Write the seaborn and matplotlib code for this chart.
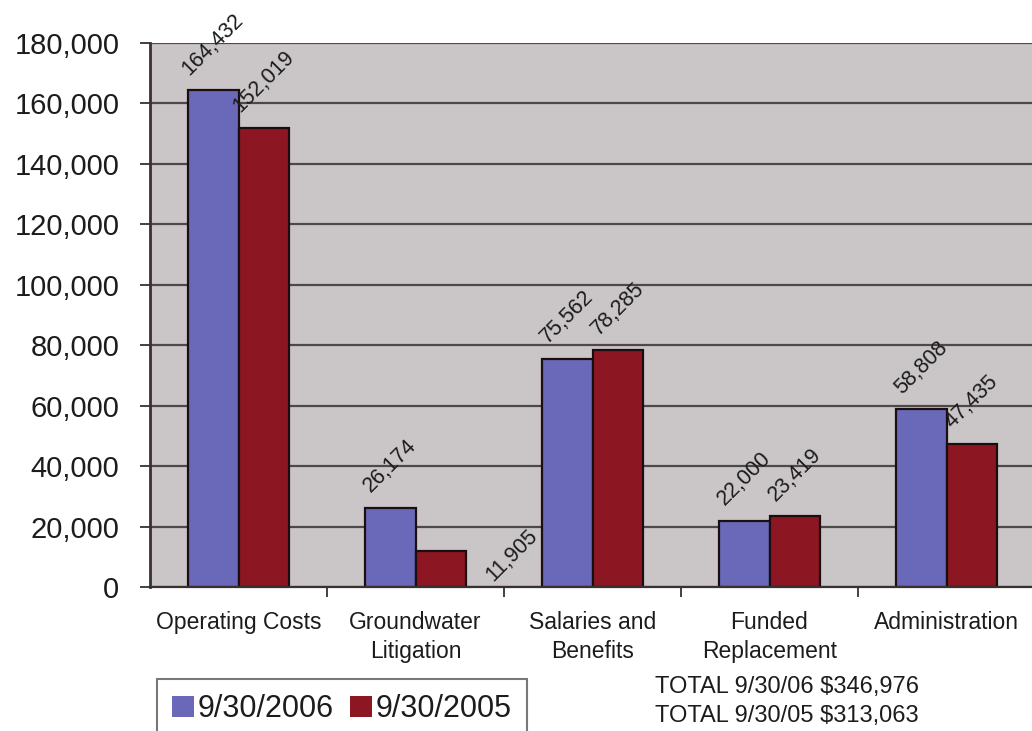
import matplotlib
matplotlib.use("Agg")
import matplotlib.pyplot as plt
from matplotlib.patches import Patch
from matplotlib.ticker import FuncFormatter, FixedLocator
import seaborn as sns
import pandas as pd

# Expense categories and the two fiscal-year series
categories = ["Operating Costs", "Groundwater\nLitigation", "Salaries and\nBenefits",
              "Funded\nReplacement", "Administration"]
series_names = ["9/30/2006", "9/30/2005"]
values_2006 = [164432, 26174, 75562, 22000, 58808]
values_2005 = [152019, 11905, 78285, 23419, 47435]
total_labels = ["TOTAL 9/30/06", "TOTAL 9/30/05"]
y_ticks = [0, 20000, 40000, 60000, 80000, 100000, 120000, 140000, 160000, 180000]

BLUE = "#6a68b8"
RED = "#8c1621"
PANEL = "#cac6c8"
GRID = "#4e4848"
TEXT = "#1c1c1c"

df = pd.DataFrame({
    "category": categories * 2,
    "series": [series_names[0]] * len(categories) + [series_names[1]] * len(categories),
    "value": values_2006 + values_2005,
})

sns.set_theme(style="white")
plt.rcParams["font.family"] = ["Liberation Sans", "DejaVu Sans"]

fig = plt.figure(figsize=(10.32, 7.31), dpi=100)
fig.patch.set_facecolor("white")
ax = fig.add_axes([150 / 1032, 1 - 587 / 731, 885 / 1032, (587 - 43) / 731])
ax.set_facecolor(PANEL)

sns.barplot(data=df, x="category", y="value", hue="series", order=categories,
            hue_order=series_names, palette=[BLUE, RED], width=0.57, gap=0,
            edgecolor="#1a0e10", linewidth=1.6, saturation=1, legend=False, ax=ax)

ax.set_xlim(-0.5, len(categories) - 0.5)
ax.set_ylim(0, 180000)
ax.set_xlabel("")
ax.set_ylabel("")

# Gridlines behind bars
ax.set_axisbelow(True)
ax.yaxis.set_major_locator(FixedLocator(y_ticks))
ax.grid(axis="y", color=GRID, linewidth=1.6)
ax.grid(axis="x", visible=False)
ax.yaxis.set_major_formatter(FuncFormatter(lambda v, p: f"{int(v):,}"))
ax.tick_params(axis="y", which="major", length=7, width=1.3, color="#333333",
               direction="out", pad=15, labelsize=21, labelcolor=TEXT, left=True)

# Category labels centered, tick marks between categories
ax.tick_params(axis="x", which="major", length=0, pad=17, labelsize=16.5, labelcolor=TEXT)
ax.set_xticks(range(len(categories)))
ax.set_xticklabels(categories, linespacing=1.35)
ax.xaxis.set_minor_locator(FixedLocator([i + 0.5 for i in range(len(categories) - 1)]))
ax.tick_params(axis="x", which="minor", length=7, width=1.3, color="#333333",
               direction="out", bottom=True)

for side in ("top", "right"):
    ax.spines[side].set_visible(False)
ax.spines["left"].set_color("#3a3030")
ax.spines["left"].set_linewidth(2)
ax.spines["bottom"].set_color("#3a3030")
ax.spines["bottom"].set_linewidth(1.6)

# Value labels, rotated above each bar
beside_base = {(categories[1], series_names[1])}
for s_name, container in zip(series_names, ax.containers):
    for cat, bar in zip(categories, container.patches):
        val = bar.get_height()
        cx = bar.get_x() + bar.get_width() / 2
        if (cat, s_name) in beside_base:
            ax.annotate(f"{int(round(val)):,}", xy=(cx + 0.4, 0), xytext=(0, 1),
                        textcoords="offset points", rotation=45, ha="center",
                        va="bottom", fontsize=15.5, color=TEXT)
        else:
            ax.annotate(f"{int(round(val)):,}", xy=(cx, val), xytext=(0, 8),
                        textcoords="offset points", rotation=45, ha="center",
                        va="bottom", fontsize=15.5, color=TEXT, annotation_clip=False)

# Legend with square swatches
handles = [Patch(facecolor=BLUE, edgecolor="none"), Patch(facecolor=RED, edgecolor="none")]
leg = fig.legend(handles, series_names, loc="upper left",
                 bbox_to_anchor=(157 / 1032, 1 - 679 / 731), ncol=2, fontsize=22,
                 frameon=True, fancybox=False, handlelength=0.7, handleheight=0.7,
                 handletextpad=0.12, columnspacing=0.55, borderpad=0.5,
                 borderaxespad=0)
leg.get_frame().set_edgecolor("#5a5555")
leg.get_frame().set_linewidth(1.5)
for t in leg.get_texts():
    t.set_color(TEXT)

# Totals for each fiscal year
totals = [sum(values_2006), sum(values_2005)]
fig.text(655 / 1032, 1 - 687 / 731, f"{total_labels[0]} ${totals[0]:,}",
         fontsize=17, color=TEXT, ha="left", va="center")
fig.text(655 / 1032, 1 - 716 / 731, f"{total_labels[1]} ${totals[1]:,}",
         fontsize=17, color=TEXT, ha="left", va="center")

fig.savefig("out.png", dpi=100, facecolor="white")
